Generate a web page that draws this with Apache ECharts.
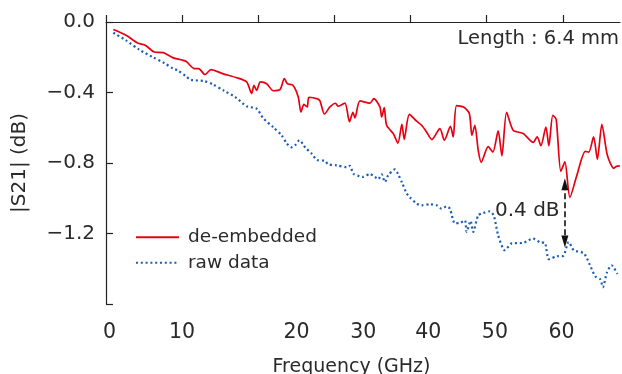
<!DOCTYPE html>
<html>
<head>
<meta charset="utf-8">
<script src="https://cdn.jsdelivr.net/npm/echarts@6/dist/echarts.min.js"></script>
<style>
  html, body { margin: 0; padding: 0; background: #fff; }
  #chart { width: 622px; height: 374px; }
</style>
</head>
<body>
<div id="chart"></div>
<script>
// |S21| vs frequency, de-embedded vs raw
const deembFreq = [0.96, 2.63, 4.16, 5.16, 6.34, 7.53, 8.76, 10.50, 11.59, 12.17,
  13.00, 13.79, 15.33, 17.07, 18.47, 19.13, 19.43, 19.78, 20.28, 21.10,
  21.96, 22.84, 23.43, 23.80, 24.55, 25.25, 25.60, 25.99, 26.43, 26.65,
  27.77, 28.10, 28.69, 29.41, 30.13, 30.50, 31.38, 31.97, 32.43, 32.69,
  33.35, 34.66, 35.18, 35.97, 36.20, 36.54, 36.85, 37.72, 38.34, 38.86,
  39.16, 39.84, 40.79, 41.45, 42.10, 42.80, 43.85, 44.44, 45.23, 45.60,
  46.04, 47.00, 47.72, 48.05, 48.44, 48.88, 49.27, 50.19, 50.81, 51.50,
  51.99, 52.61, 53.47, 54.79, 56.10, 56.62, 57.11, 57.77, 58.16, 58.68,
  59.12, 59.73, 60.26, 60.92, 61.80, 62.95, 63.41, 64.03, 64.53, 65.12,
  65.84, 66.69, 67.02, 67.48];
const deembS21 = [-0.043, -0.075, -0.119, -0.132, -0.170, -0.174, -0.202, -0.223, -0.264, -0.264,
  -0.298, -0.270, -0.293, -0.315, -0.340, -0.406, -0.359, -0.388, -0.340, -0.350,
  -0.390, -0.384, -0.321, -0.350, -0.359, -0.426, -0.511, -0.467, -0.482, -0.427,
  -0.436, -0.448, -0.522, -0.482, -0.461, -0.478, -0.460, -0.566, -0.512, -0.544,
  -0.448, -0.460, -0.435, -0.482, -0.539, -0.486, -0.586, -0.633, -0.687, -0.580,
  -0.666, -0.524, -0.562, -0.586, -0.624, -0.667, -0.605, -0.671, -0.592, -0.652,
  -0.475, -0.484, -0.520, -0.643, -0.586, -0.728, -0.796, -0.707, -0.738, -0.618,
  -0.759, -0.512, -0.614, -0.633, -0.683, -0.652, -0.702, -0.596, -0.702, -0.529,
  -0.552, -0.847, -0.794, -0.995, -0.875, -0.734, -0.738, -0.652, -0.779, -0.580,
  -0.756, -0.830, -0.819, -0.816];

const rawFreq = [0.96, 2.63, 4.37, 6.13, 7.65, 8.80, 9.41, 10.50, 11.16, 12.87,
  14.01, 15.49, 16.98, 18.47, 19.76, 20.65, 21.96, 23.07, 23.72, 24.38,
  24.81, 25.40, 26.19, 27.01, 27.70, 28.75, 29.18, 30.29, 31.64, 32.03,
  32.49, 33.28, 33.78, 34.66, 35.32, 35.75, 36.20, 36.63, 37.06, 37.94,
  38.37, 38.86, 39.48, 39.91, 40.79, 41.45, 42.54, 43.42, 44.07, 44.73,
  45.16, 45.82, 46.48, 47.13, 47.36, 47.88, 48.22, 48.88, 49.53, 50.41,
  50.94, 51.50, 52.38, 53.30, 54.79, 56.10, 56.98, 57.63, 58.16, 59.21,
  60.04, 60.75, 61.44, 62.75, 63.54, 64.26, 64.92, 65.25, 65.77, 66.39,
  67.15];
const rawS21 = [-0.061, -0.104, -0.157, -0.199, -0.233, -0.264, -0.274, -0.308, -0.328, -0.335,
  -0.353, -0.390, -0.426, -0.478, -0.491, -0.546, -0.597, -0.643, -0.688, -0.711,
  -0.701, -0.671, -0.714, -0.747, -0.782, -0.788, -0.807, -0.813, -0.824, -0.816,
  -0.861, -0.875, -0.879, -0.862, -0.879, -0.892, -0.864, -0.908, -0.870, -0.836,
  -0.864, -0.910, -0.972, -0.995, -1.030, -1.040, -1.034, -1.040, -1.059, -1.046,
  -1.059, -1.142, -1.140, -1.125, -1.191, -1.129, -1.191, -1.097, -1.084, -1.074,
  -1.100, -1.210, -1.295, -1.256, -1.253, -1.229, -1.250, -1.253, -1.346, -1.329,
  -1.327, -1.248, -1.295, -1.312, -1.378, -1.443, -1.460, -1.505, -1.423, -1.380,
  -1.430];

const xTicks = [0, 10, 20, 30, 40, 50, 60];
const xTickLabels = ['0', '10', '20', '30', '40', '50', '60'];
const yTicks = [0, -0.4, -0.8, -1.2];
// 0.4 dB gap marker at ~60 GHz: [freq, top, bottom]
const gapMarker = [60.26, -0.92, -1.245];

const FONT = '"DejaVu Sans", "Noto Sans CJK JP", sans-serif';
const TXT = '#2a2a2a';
const AXIS = '#222';

// label anchors as printed in the figure (they don't sit on the ticks)
const xLabelAt = [0.46, 9.98, 25.03, 33.78, 42.31, 51.07, 59.83];

const chart = echarts.init(document.getElementById('chart'));
chart.setOption({
  animation: false,
  textStyle: { fontFamily: FONT },
  grid: { left: 106, right: 2, top: 22, bottom: 70, outerBoundsMode: 'none' },
  legend: {
    data: ['de-embedded', 'raw data'],
    orient: 'vertical',
    left: 135,
    top: 228,
    padding: 0,
    itemWidth: 43,
    itemHeight: 14,
    itemGap: 7,
    itemStyle: { opacity: 0 },
    textStyle: { fontSize: 18.5, color: TXT, fontFamily: FONT, padding: [0, 0, 0, 4] },
  },
  xAxis: {
    type: 'value',
    min: 0,
    max: 67.5,
    interval: 10,
    name: 'Frequency (GHz)',
    nameLocation: 'middle',
    nameGap: 54,
    nameTextStyle: { fontSize: 19, color: TXT, fontFamily: FONT, padding: [0, 23, 0, 0] },
    axisLine: { lineStyle: { color: AXIS, width: 1.2 } },
    axisTick: { inside: true, length: 7, customValues: xTicks, lineStyle: { color: AXIS, width: 1.2 } },
    axisLabel: {
      customValues: xLabelAt,
      margin: 18,
      fontSize: 20.5,
      color: TXT,
      fontFamily: FONT,
      formatter: (v) => {
        const i = xLabelAt.findIndex((p) => Math.abs(p - v) < 1e-6);
        return i < 0 ? '' : xTickLabels[i];
      },
    },
    splitLine: { show: false },
  },
  yAxis: {
    type: 'value',
    min: -1.6,
    max: 0,
    interval: 0.4,
    name: '|S21| (dB)',
    nameLocation: 'middle',
    nameGap: 76,
    nameTextStyle: { fontSize: 20, color: TXT, fontFamily: FONT },
    axisLine: { show: true, lineStyle: { color: AXIS, width: 1.2 } },
    axisTick: { show: true, inside: true, length: 7, lineStyle: { color: AXIS, width: 1.2 } },
    axisLabel: {
      customValues: yTicks,
      margin: 11,
      fontSize: 20,
      color: TXT,
      fontFamily: FONT,
      formatter: (v) => (Math.abs(v) < 1e-9 ? '0.0' : '\u2212' + Math.abs(v).toFixed(1)),
    },
    splitLine: { show: false },
  },
  graphic: [
    {
      type: 'text', right: 3, top: 29,
      style: { text: 'Length : 6.4 mm', fontSize: 19.5, fill: TXT, fontFamily: FONT },
    },
    {
      type: 'text', left: 495, top: 201,
      style: { text: '0.4 dB', fontSize: 20, fill: TXT, fontFamily: FONT },
    },
  ],
  series: [
    {
      name: 'raw data',
      type: 'line',
      data: rawFreq.map((f, i) => [f, rawS21[i]]),
      symbol: 'none',
      smooth: 0.25,
      lineStyle: { color: '#1a5db4', width: 2.2, type: [2, 2.8] },
      itemStyle: { color: '#1a5db4' },
      z: 2,
    },
    {
      name: 'de-embedded',
      type: 'line',
      data: deembFreq.map((f, i) => [f, deembS21[i]]),
      symbol: 'none',
      smooth: 0.25,
      lineStyle: { color: '#e60012', width: 1.7 },
      itemStyle: { color: '#e60012' },
      z: 3,
      markLine: {
        silent: true,
        symbol: ['triangle', 'triangle'],
        symbolSize: 9,
        label: { show: false },
        lineStyle: { color: '#111', width: 1.6, type: [6, 3] },
        data: [[
          { coord: [gapMarker[0], gapMarker[1]], symbolSize: [7, 12] },
          { coord: [gapMarker[0], gapMarker[2]], symbolSize: [7, 12] },
        ]],
      },
    },
  ],
});
</script>
</body>
</html>
